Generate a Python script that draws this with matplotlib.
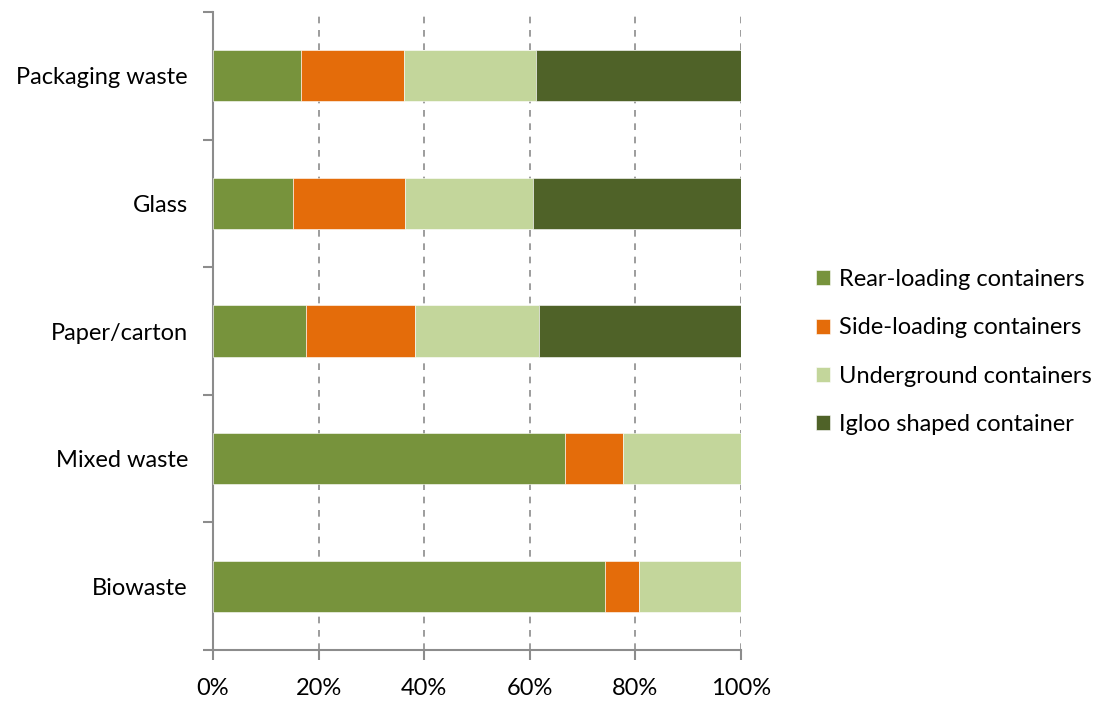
import matplotlib.pyplot as plt
import numpy as np
from matplotlib.ticker import FuncFormatter

plt.rcParams['font.family'] = ['Lato', 'DejaVu Sans']

categories = ["Packaging waste", "Glass", "Paper/carton", "Mixed waste", "Biowaste"]
series_names = ["Rear-loading containers", "Side-loading containers",
                "Underground containers", "Igloo shaped container"]
rear = [16.7, 15.2, 17.6, 66.7, 74.2]
side = [19.4, 21.1, 20.6, 11.0, 6.4]
underground = [25.0, 24.3, 23.5, 22.3, 19.4]
igloo = [38.9, 39.4, 38.3, 0.0, 0.0]
colors = ["#77933C", "#E46C0A", "#C3D69B", "#4F6228"]

fig = plt.figure(figsize=(11.08, 7.02), dpi=100)
ax = fig.add_axes([213 / 1108, 1 - 650 / 702, 528 / 1108, 638 / 702])

y = np.arange(len(categories))
left = np.zeros(len(categories))
for vals, name, col in zip([rear, side, underground, igloo], series_names, colors):
    ax.barh(y, vals, left=left, height=0.4, color=col, label=name,
            edgecolor="white", linewidth=0.4, zorder=3)
    left += np.array(vals)

ax.set_xlim(0, 100)
ax.set_ylim(len(categories) - 0.5, -0.5)

ax.set_xticks([0, 20, 40, 60, 80, 100])
ax.xaxis.set_major_formatter(FuncFormatter(lambda v, p: f"{v:.0f}%"))
ax.set_yticks(y)
ax.set_yticklabels(categories)
ax.set_yticks(np.arange(-0.5, len(categories), 1), minor=True)

ax.xaxis.grid(True, linestyle=(0, (4, 4)), color="#8c8c8c", linewidth=1.2, zorder=0)
ax.set_axisbelow(True)

for s in ["top", "right"]:
    ax.spines[s].set_visible(False)
for s in ["left", "bottom"]:
    ax.spines[s].set_color("#8c8c8c")
    ax.spines[s].set_linewidth(1.5)

ax.tick_params(axis="x", length=7, width=1.5, color="#8c8c8c", pad=13,
               labelsize=17, labelcolor="black")
ax.tick_params(axis="y", which="major", length=0, pad=18, labelsize=17)
ax.tick_params(axis="y", which="minor", length=7, width=1.5, color="#8c8c8c")

ax.legend(loc="upper left", bbox_to_anchor=(795 / 1108, 1 - 248 / 702),
          bbox_transform=fig.transFigure, frameon=False, fontsize=17,
          handlelength=0.6, handleheight=0.6, handletextpad=0.35,
          labelspacing=1.15)

fig.savefig("out.png", dpi=100)
